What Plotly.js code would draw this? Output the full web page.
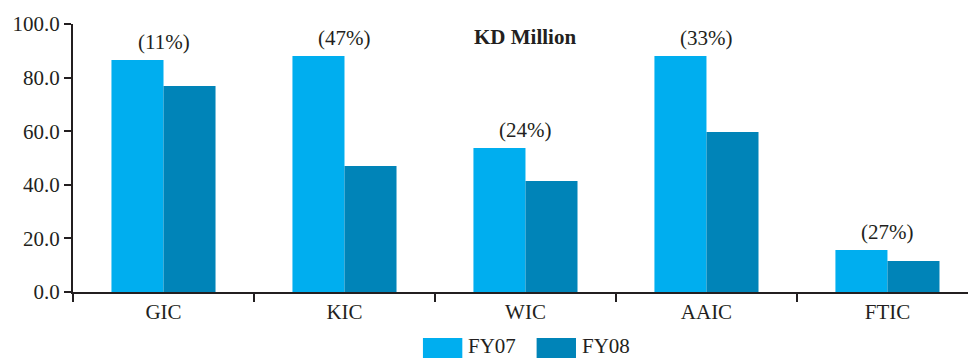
<!DOCTYPE html>
<html>
<head>
<meta charset="utf-8">
<script src="https://cdn.plot.ly/plotly-3.0.1.min.js"></script>
<style>
html,body{margin:0;padding:0;background:#fff;}
#chart{width:968px;height:358px;}
</style>
</head>
<body>
<div id="chart"></div>
<script>
var categories = ["GIC", "KIC", "WIC", "AAIC", "FTIC"];
var fy07 = [86.6, 88.1, 53.7, 88.1, 15.7];
var fy08 = [76.9, 47.0, 41.4, 59.7, 11.6];
var changeLabels = ["(11%)", "(47%)", "(24%)", "(33%)", "(27%)"];
var seriesNames = ["FY07", "FY08"];
var yTicks = [0, 20, 40, 60, 80, 100];
var unitLabel = "KD Million";

var c07 = "#00AEEF", c08 = "#0084B8", ink = "#231F20";
var font = "Liberation Serif, Times New Roman, serif";

var traces = [
  {type: "bar", name: seriesNames[0], x: categories, y: fy07, marker: {color: c07, line: {width: 0}}},
  {type: "bar", name: seriesNames[1], x: categories, y: fy08, marker: {color: c08, line: {width: 0}}}
];

var annotations = categories.map(function (c, i) {
  return {x: c, y: Math.max(fy07[i], fy08[i]), xref: "x", yref: "y", text: changeLabels[i],
    showarrow: false, yanchor: "bottom", yshift: 4, font: {family: font, size: 21, color: ink}};
});
annotations.push({x: categories[2], y: 0.953, xref: "x", yref: "paper", yanchor: "middle", text: "<b>" + unitLabel + "</b>",
  showarrow: false, font: {family: font, size: 21, color: ink}});

// custom legend (large swatches)
var legX = [[0.391, 0.435], [0.518, 0.562]];
var shapes = [];
seriesNames.forEach(function (n, i) {
  shapes.push({type: "rect", xref: "paper", yref: "paper", x0: legX[i][0], x1: legX[i][1], y0: -0.172, y1: -0.26,
    fillcolor: i === 0 ? c07 : c08, line: {width: 0}});
  annotations.push({xref: "paper", yref: "paper", x: legX[i][1] + 0.004, y: -0.2, xanchor: "left", yanchor: "middle",
    text: n, showarrow: false, font: {family: font, size: 21, color: ink}});
});

var layout = {
  width: 968, height: 358,
  margin: {l: 73, r: 0, t: 24, b: 66, pad: 0},
  paper_bgcolor: "#fff", plot_bgcolor: "#fff",
  showlegend: false,
  barmode: "group", bargap: 0.425, bargroupgap: 0,
  font: {family: font, size: 21, color: ink},
  xaxis: {type: "category", range: [-0.5, 4.445], showline: true, linecolor: ink, linewidth: 2,
    ticks: "outside", tickson: "boundaries", ticklen: 8, tickwidth: 2, tickcolor: ink,
    showgrid: false, zeroline: false, tickfont: {family: font, size: 21, color: ink}},
  yaxis: {range: [0, 100], tickvals: yTicks, ticktext: yTicks.map(function (v) { return v.toFixed(1); }),
    showline: true, linecolor: ink, linewidth: 2, ticks: "outside", ticklen: 7, tickwidth: 2, tickcolor: ink,
    showgrid: false, zeroline: false, tickfont: {family: font, size: 21, color: ink}},
  annotations: annotations,
  shapes: shapes
};

Plotly.newPlot("chart", traces, layout, {staticPlot: true, displayModeBar: false});
</script>
</body>
</html>
